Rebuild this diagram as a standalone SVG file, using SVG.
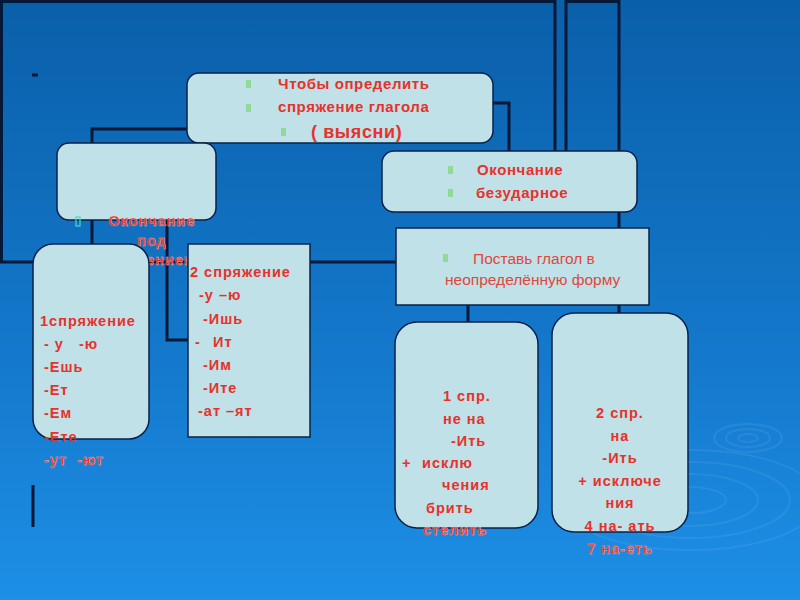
<svg xmlns="http://www.w3.org/2000/svg" width="800" height="600" viewBox="0 0 800 600">
<defs>
<linearGradient id="bg" x1="0" y1="0" x2="0" y2="1">
<stop offset="0" stop-color="#0a5fa9"/>
<stop offset="0.6" stop-color="#1479cc"/>
<stop offset="1" stop-color="#1d8fe6"/>
</linearGradient>
<style>
.box{fill:#bfe1e7;stroke:#0a2048;stroke-width:1.5}
.ln{fill:none;stroke:#061838;stroke-width:3}
.t{font-family:"Liberation Sans",Arial,sans-serif;font-weight:bold;fill:#e8312a;font-size:14.5px;letter-spacing:1px}
.tb{font-family:"Liberation Sans",Arial,sans-serif;font-weight:bold;fill:#e8312a;font-size:15px;letter-spacing:0.6px}
.tn{font-family:"Liberation Sans",Arial,sans-serif;fill:#e0473d;font-size:15.5px}
.bul{fill:#84d884;opacity:0.8}
.rip{fill:none;stroke:#ffffff;stroke-opacity:0.07;stroke-width:2}
</style>
</defs>
<rect x="0" y="0" width="800" height="600" fill="url(#bg)"/>
<g id="ripples">
<ellipse class="rip" cx="748" cy="438" rx="34" ry="14"/>
<ellipse class="rip" cx="748" cy="438" rx="22" ry="9"/>
<ellipse class="rip" cx="748" cy="438" rx="10" ry="4"/>
<ellipse class="rip" cx="690" cy="500" rx="130" ry="50"/>
<ellipse class="rip" cx="690" cy="500" rx="100" ry="38"/>
<ellipse class="rip" cx="690" cy="500" rx="68" ry="26"/>
<ellipse class="rip" cx="690" cy="500" rx="36" ry="13"/>
</g>
<g id="connectors">
<path class="ln" d="M1.5,262 V1.5 H555 V160"/>
<path class="ln" d="M0,262 H400"/>
<path class="ln" d="M566,160 V1.5 H619 V320"/>
<path class="ln" d="M190,129 H92 V250"/>
<path class="ln" d="M167,215 V340 H190"/>
<path class="ln" d="M490,103 H509 V155"/>
<path class="ln" d="M468,300 V326"/>
<path class="ln" d="M33,485 V527"/>
<path class="ln" d="M32,75 H38" stroke-width="2.5"/>
</g>
<g id="node-question">
<rect class="box" x="187" y="73" width="306" height="70" rx="12"/>
<rect class="bul" x="246" y="80" width="5" height="8"/>
<rect class="bul" x="246" y="104" width="5" height="8"/>
<rect class="bul" x="281" y="128" width="5" height="8"/>
<text class="tb" x="278" y="89">Чтобы определить</text>
<text class="tb" x="278" y="112">спряжение глагола</text>
<text class="tb" x="311" y="138" style="font-size:18px">( выясни)</text>
</g>
<g id="node-stressed">
<rect class="box" x="57" y="143" width="159" height="77" rx="12"/>
<rect x="76" y="217" width="4" height="9" fill="none" stroke="#40e0c8" stroke-width="1.2"/>
<text class="t" x="152" y="226" text-anchor="middle" stroke="#f3b0a8" stroke-width="0.4">Окончание</text>
<text class="t" x="152" y="246" text-anchor="middle" stroke="#f3b0a8" stroke-width="0.4">под</text>
<text class="t" x="152" y="265" text-anchor="middle" stroke="#f3b0a8" stroke-width="0.4">ударением</text>
</g>
<g id="node-conj1">
<rect class="box" x="33" y="244" width="116" height="195" rx="20"/>
<text class="t" x="40" y="326">1спряжение</text>
<text class="t" x="44" y="349" xml:space="preserve">- у   -ю</text>
<text class="t" x="44" y="372">-Ешь</text>
<text class="t" x="44" y="395">-Ет</text>
<text class="t" x="44" y="418">-Ем</text>
<text class="t" x="44" y="442">-Ете</text>
<text class="t" x="44" y="465" xml:space="preserve" stroke="#f3b0a8" stroke-width="0.4">-ут  -ют</text>
</g>
<g id="node-conj2">
<rect class="box" x="188" y="244" width="122" height="193"/>
<text class="t" x="190" y="277">2 спряжение</text>
<text class="t" x="199" y="300">-у –ю</text>
<text class="t" x="203" y="324">-Ишь</text>
<text class="t" x="195" y="347">-</text>
<text class="t" x="213" y="347">Ит</text>
<text class="t" x="203" y="370">-Им</text>
<text class="t" x="203" y="393">-Ите</text>
<text class="t" x="198" y="416">-ат –ят</text>
</g>
<g id="node-unstressed">
<rect class="box" x="382" y="151" width="255" height="61" rx="12"/>
<rect class="bul" x="448" y="166" width="5" height="8"/>
<rect class="bul" x="448" y="189" width="5" height="8"/>
<text class="tb" x="477" y="175">Окончание</text>
<text class="tb" x="476" y="198">безударное</text>
</g>
<g id="node-infinitive">
<rect class="box" x="396" y="228" width="253" height="77"/>
<rect class="bul" x="443" y="254" width="5" height="8" opacity="0.4"/>
<text class="tn" x="473" y="264">Поставь глагол в</text>
<text class="tn" x="445" y="285">неопределённую форму</text>
</g>
<g id="node-spr1">
<rect class="box" x="395" y="322" width="143" height="206" rx="22"/>
<text class="t" x="443" y="401">1 спр.</text>
<text class="t" x="443" y="424">не на</text>
<text class="t" x="451" y="446">-Ить</text>
<text class="t" x="402" y="468">+</text>
<text class="t" x="422" y="468">исклю</text>
<text class="t" x="442" y="490">чения</text>
<text class="t" x="426" y="513">брить</text>
<text class="t" x="423" y="535" stroke="#f3b0a8" stroke-width="0.4">стелить</text>
</g>
<g id="node-spr2">
<rect class="box" x="552" y="313" width="136" height="219" rx="22"/>
<text class="t" x="620" y="418" text-anchor="middle">2 спр.</text>
<text class="t" x="620" y="441" text-anchor="middle">на</text>
<text class="t" x="620" y="463" text-anchor="middle">-Ить</text>
<text class="t" x="620" y="486" text-anchor="middle">+ исключе</text>
<text class="t" x="620" y="508" text-anchor="middle">ния</text>
<text class="t" x="620" y="531" text-anchor="middle">4 на- ать</text>
<text class="t" x="620" y="554" text-anchor="middle" stroke="#f3b0a8" stroke-width="0.4">7 на-еть</text>
</g>
</svg>
